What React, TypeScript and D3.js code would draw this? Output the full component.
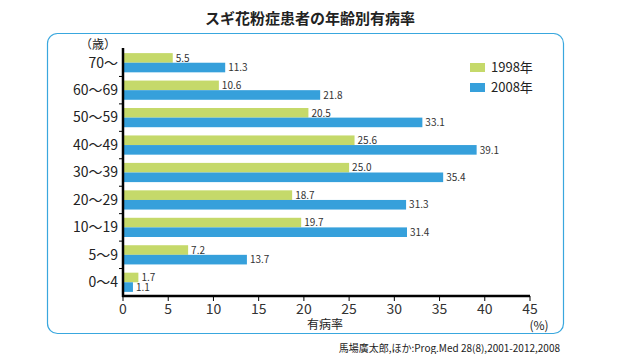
import React, { useEffect, useRef } from 'react';
import * as d3 from 'd3';

const ageGroups = ['70～', '60～69', '50～59', '40～49', '30～39', '20～29', '10～19', '5～9', '0～4'];
const values1998 = [5.5, 10.6, 20.5, 25.6, 25.0, 18.7, 19.7, 7.2, 1.7];
const values2008 = [11.3, 21.8, 33.1, 39.1, 35.4, 31.3, 31.4, 13.7, 1.1];
const seriesNames = ['1998年', '2008年'];
const xTicks = [0, 5, 10, 15, 20, 25, 30, 35, 40, 45];

const App: React.FC = () => {
  const ref = useRef<SVGSVGElement | null>(null);

  useEffect(() => {
    if (!ref.current) return;
    const font = '"Noto Sans CJK JP", "Noto Sans", sans-serif';
    const colors = ['#c5d96a', '#36a0db'];
    const svg = d3.select(ref.current);
    svg.selectAll('*').remove();

    // title
    svg
      .append('text')
      .attr('x', 310)
      .attr('y', 24)
      .attr('text-anchor', 'middle')
      .attr('font-family', font)
      .attr('font-weight', 'bold')
      .attr('font-size', 15)
      .attr('fill', '#222')
      .text('スギ花粉症患者の年齢別有病率');

    // frame
    svg
      .append('rect')
      .attr('x', 47.5)
      .attr('y', 33.5)
      .attr('width', 516)
      .attr('height', 300)
      .attr('rx', 10)
      .attr('fill', 'none')
      .attr('stroke', '#39a7de')
      .attr('stroke-width', 1.2);

    const x = d3.scaleLinear().domain([0, 45]).range([123, 530]);
    const y = d3.scaleBand().domain(ageGroups).range([49, 296]).paddingInner(0.3).paddingOuter(0.15);
    const inner = d3
      .scaleBand()
      .domain(seriesNames)
      .range([0, y.bandwidth()]);

    const g = svg.append('g');
    const series = [values1998, values2008];

    series.forEach((vals, si) => {
      g.selectAll(`.bar-${si}`)
        .data(vals)
        .enter()
        .append('rect')
        .attr('x', x(0))
        .attr('y', (_, i) => (y(ageGroups[i]) ?? 0) + (inner(seriesNames[si]) ?? 0))
        .attr('width', (d) => x(d) - x(0))
        .attr('height', inner.bandwidth())
        .attr('fill', colors[si]);

      g.selectAll(`.lbl-${si}`)
        .data(vals)
        .enter()
        .append('text')
        .attr('x', (d) => x(d) + 3)
        .attr('y', (_, i) => (y(ageGroups[i]) ?? 0) + (inner(seriesNames[si]) ?? 0) + inner.bandwidth() / 2 + 1)
        .attr('dominant-baseline', 'middle')
        .attr('font-family', font)
        .attr('font-size', 10)
        .attr('fill', '#333')
        .text((d) => d.toFixed(1));
    });

    // y axis
    const step = y.step();
    const boundaries = d3.range(1, ageGroups.length).map((i) => 49 + step * i);
    svg
      .append('line')
      .attr('x1', x(0))
      .attr('x2', x(0))
      .attr('y1', 48)
      .attr('y2', 297)
      .attr('stroke', '#000')
      .attr('stroke-width', 2.5);
    svg
      .selectAll('.ytick')
      .data(boundaries)
      .enter()
      .append('line')
      .attr('x1', x(0) - 4)
      .attr('x2', x(0))
      .attr('y1', (d) => d)
      .attr('y2', (d) => d)
      .attr('stroke', '#000')
      .attr('stroke-width', 1);
    svg
      .selectAll('.ylabel')
      .data(ageGroups)
      .enter()
      .append('text')
      .attr('x', 118)
      .attr('y', (d) => (y(d) ?? 0) + y.bandwidth() / 2 + 1)
      .attr('text-anchor', 'end')
      .attr('dominant-baseline', 'middle')
      .attr('font-family', font)
      .attr('font-size', 14)
      .attr('fill', '#222')
      .text((d) => d);

    svg
      .append('text')
      .attr('x', 98)
      .attr('y', 49)
      .attr('text-anchor', 'middle')
      .attr('font-family', font)
      .attr('font-size', 12)
      .attr('fill', '#222')
      .text('（歳）');

    // x axis
    svg
      .append('line')
      .attr('x1', x(0) - 1)
      .attr('x2', x(45))
      .attr('y1', 296)
      .attr('y2', 296)
      .attr('stroke', '#000')
      .attr('stroke-width', 2.5);
    svg
      .selectAll('.xtick')
      .data(xTicks)
      .enter()
      .append('line')
      .attr('x1', (d) => x(d))
      .attr('x2', (d) => x(d))
      .attr('y1', 296)
      .attr('y2', 301)
      .attr('stroke', '#000')
      .attr('stroke-width', 1);
    svg
      .selectAll('.xlabel')
      .data(xTicks)
      .enter()
      .append('text')
      .attr('x', (d) => x(d))
      .attr('y', 314)
      .attr('text-anchor', 'middle')
      .attr('font-family', font)
      .attr('font-size', 14)
      .attr('fill', '#333')
      .text((d) => d);

    svg
      .append('text')
      .attr('x', 325)
      .attr('y', 329)
      .attr('text-anchor', 'middle')
      .attr('font-family', font)
      .attr('font-size', 12)
      .attr('fill', '#222')
      .text('有病率');
    svg
      .append('text')
      .attr('x', 539)
      .attr('y', 330)
      .attr('text-anchor', 'middle')
      .attr('font-family', font)
      .attr('font-size', 12)
      .attr('fill', '#222')
      .text('(%)');

    // legend
    seriesNames.forEach((name, i) => {
      const ly = 63 + i * 20;
      svg
        .append('rect')
        .attr('x', 470)
        .attr('y', ly)
        .attr('width', 15)
        .attr('height', 9)
        .attr('fill', colors[i]);
      svg
        .append('text')
        .attr('x', 491)
        .attr('y', ly + 5)
        .attr('dominant-baseline', 'middle')
        .attr('font-family', font)
        .attr('font-size', 13)
        .attr('fill', '#222')
        .text(name);
    });

    // source
    svg
      .append('text')
      .attr('x', 560)
      .attr('y', 352)
      .attr('text-anchor', 'end')
      .attr('font-family', font)
      .attr('font-size', 10)
      .attr('fill', '#222')
      .text('馬場廣太郎,ほか:Prog.Med 28(8),2001-2012,2008');
  }, []);

  return (
    <div style={{ margin: -8 }}>
      <svg ref={ref} width={620} height={362} style={{ display: 'block', background: '#fff' }} />
    </div>
  );
};

export default App;
